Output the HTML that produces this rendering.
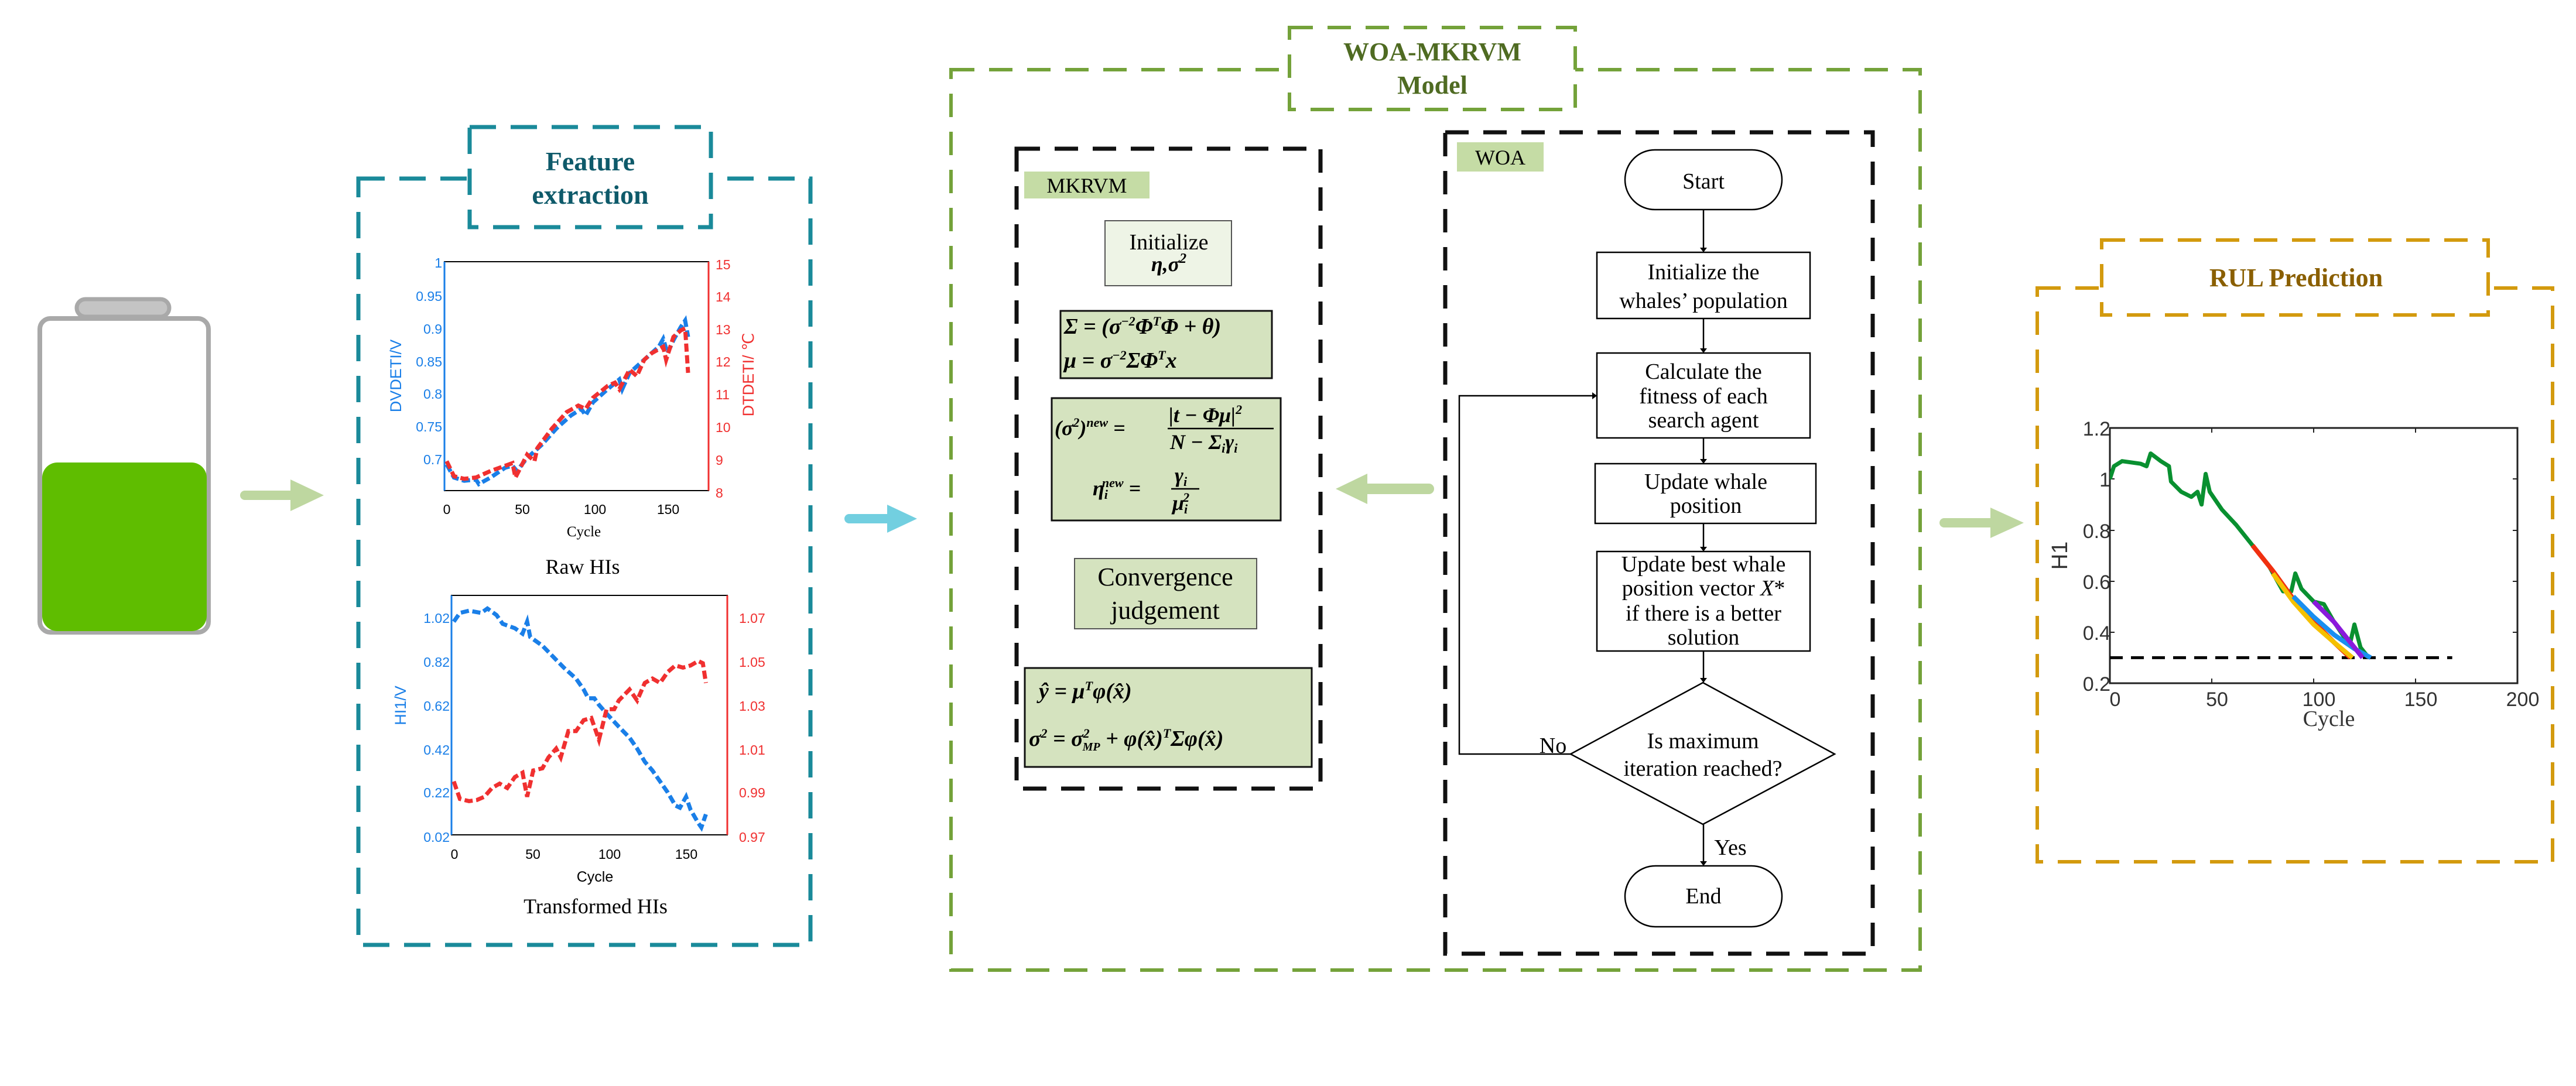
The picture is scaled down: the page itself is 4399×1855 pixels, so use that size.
<!DOCTYPE html>
<html><head><meta charset="utf-8"><style>
html,body{margin:0;padding:0;background:#fff;}
svg{display:block;}
.ser{font-family:"Liberation Serif",serif;}
.san{font-family:"Liberation Sans",sans-serif;}
</style></head><body>
<svg width="4399" height="1855" viewBox="0 0 4399 1855" xmlns="http://www.w3.org/2000/svg">
<!-- Battery -->
<rect x="131" y="511" width="158" height="30" rx="15" fill="#c4c4c4" stroke="#a9a9a9" stroke-width="7"/>
<rect x="68" y="544" width="288" height="536" rx="18" fill="#fff" stroke="#a9a9a9" stroke-width="8"/>
<rect x="72" y="790" width="281" height="288" rx="26" fill="#5fbd00"/>
<!-- arrow 1 -->
<line x1="418" y1="846" x2="500" y2="846" stroke="#bed7a0" stroke-width="16" stroke-linecap="round"/>
<polygon points="496,819 553,846 496,873" fill="#bed7a0"/>

<!-- Feature extraction box -->
<rect x="612" y="305" width="772" height="1309" fill="none" stroke="#1a8a9a" stroke-width="7" stroke-dasharray="45,25"/>
<rect x="802" y="217" width="412" height="171" fill="#fff" stroke="#1a8a9a" stroke-width="7" stroke-dasharray="45,25"/>
<text class="ser" x="1008" y="291" font-size="46" font-weight="bold" fill="#0e5a6a" text-anchor="middle">Feature</text>
<text class="ser" x="1008" y="348" font-size="46" font-weight="bold" fill="#0e5a6a" text-anchor="middle">extraction</text>

<!-- Chart 1 -->
<rect x="759" y="447" width="451" height="391" fill="none" stroke="#000" stroke-width="2"/>
<line x1="759" y1="447" x2="759" y2="838" stroke="#1a7fe8" stroke-width="3"/>
<line x1="1210" y1="447" x2="1210" y2="838" stroke="#f03030" stroke-width="3"/>
<g class="san" font-size="23" fill="#1a7fe8" text-anchor="end">
<text x="755" y="457">1</text><text x="755" y="514">0.95</text><text x="755" y="570">0.9</text><text x="755" y="626">0.85</text><text x="755" y="681">0.8</text><text x="755" y="737">0.75</text><text x="755" y="793">0.7</text>
</g>
<g class="san" font-size="23" fill="#f03030">
<text x="1222" y="460">15</text><text x="1222" y="515">14</text><text x="1222" y="571">13</text><text x="1222" y="626">12</text><text x="1222" y="682">11</text><text x="1222" y="738">10</text><text x="1222" y="794">9</text><text x="1222" y="850">8</text>
</g>
<g class="san" font-size="23" fill="#000" text-anchor="middle">
<text x="763" y="878">0</text><text x="892" y="878">50</text><text x="1016" y="878">100</text><text x="1141" y="878">150</text>
</g>
<text class="ser" x="997" y="916" font-size="25" text-anchor="middle">Cycle</text>
<text class="san" font-size="27" fill="#1a7fe8" text-anchor="middle" transform="translate(685,642) rotate(-90)">DVDETI/V</text>
<text class="san" font-size="27" fill="#f03030" text-anchor="middle" transform="translate(1287,640) rotate(-90)">DTDETI/ ℃</text>
<svg x="759" y="447" width="451" height="391" viewBox="-1.5 0 180.5 350" preserveAspectRatio="none">
<polyline vector-effect="non-scaling-stroke" fill="none" stroke="#1a7fe8" stroke-width="7" stroke-dasharray="14,6" points="0,310 5,330 12,335 20,333 22,340 30,330 40,315 45,312 48,320 55,300 65,280 75,255 85,235 92,225 95,235 100,215 110,195 118,180 120,195 125,170 130,160 135,150 140,140 145,130 148,118 151,140 155,120 160,100 163,90 165,115"/>
<polyline vector-effect="non-scaling-stroke" fill="none" stroke="#f03030" stroke-width="7" stroke-dasharray="14,6" points="0,305 5,328 12,332 20,330 30,320 40,312 45,308 47,330 55,295 60,305 62,285 72,255 82,230 90,220 95,225 100,208 110,190 115,185 118,195 125,165 130,175 135,150 140,140 148,130 150,150 155,115 160,105 163,102 165,170"/>
</svg>
<text class="ser" x="995" y="980" font-size="36" text-anchor="middle">Raw HIs</text>

<!-- Chart 2 -->
<rect x="771" y="1017" width="471" height="409" fill="none" stroke="#000" stroke-width="2"/>
<line x1="771" y1="1017" x2="771" y2="1426" stroke="#1a7fe8" stroke-width="3"/>
<line x1="1242" y1="1017" x2="1242" y2="1426" stroke="#f03030" stroke-width="3"/>
<g class="san" font-size="23" fill="#1a7fe8" text-anchor="end">
<text x="768" y="1064">1.02</text><text x="768" y="1139">0.82</text><text x="768" y="1214">0.62</text><text x="768" y="1289">0.42</text><text x="768" y="1362">0.22</text><text x="768" y="1438">0.02</text>
</g>
<g class="san" font-size="23" fill="#f03030">
<text x="1262" y="1064">1.07</text><text x="1262" y="1139">1.05</text><text x="1262" y="1214">1.03</text><text x="1262" y="1289">1.01</text><text x="1262" y="1362">0.99</text><text x="1262" y="1438">0.97</text>
</g>
<g class="san" font-size="23" fill="#000" text-anchor="middle">
<text x="776" y="1467">0</text><text x="910" y="1467">50</text><text x="1041" y="1467">100</text><text x="1172" y="1467">150</text>
</g>
<text class="san" x="1016" y="1506" font-size="25" text-anchor="middle">Cycle</text>
<text class="san" font-size="27" fill="#1a7fe8" text-anchor="middle" transform="translate(693,1205) rotate(-90)">HI1/V</text>
<svg x="771" y="1017" width="471" height="409" viewBox="-1.5 0 180.5 1094" preserveAspectRatio="none">
<polyline vector-effect="non-scaling-stroke" fill="none" stroke="#1a7fe8" stroke-width="7" stroke-dasharray="14,6" points="0,120 4,80 10,70 18,80 22,60 28,90 32,130 40,150 45,175 48,120 50,190 58,230 65,280 72,330 80,380 85,430 88,470 92,470 95,500 100,540 108,600 115,650 120,700 125,760 130,800 135,850 140,900 145,960 148,970 152,920 155,980 160,1040 162,1060 165,1000"/>
<polyline vector-effect="non-scaling-stroke" fill="none" stroke="#f03030" stroke-width="7" stroke-dasharray="14,6" points="0,850 4,930 10,940 15,935 20,920 25,880 30,860 35,880 40,830 45,810 48,920 52,800 58,790 62,740 67,700 70,740 75,620 80,620 85,570 90,560 95,660 100,520 105,520 108,480 115,430 120,480 125,400 130,380 135,400 140,350 145,320 150,330 155,320 160,300 163,310 165,400"/>
</svg>
<text class="ser" x="1017" y="1560" font-size="36" text-anchor="middle">Transformed HIs</text>

<!-- arrow 2 cyan -->
<line x1="1450" y1="886" x2="1520" y2="886" stroke="#72cfe0" stroke-width="16" stroke-linecap="round"/>
<polygon points="1515,862 1566,886 1515,910" fill="#72cfe0"/>

<!-- WOA-MKRVM box -->
<rect x="1624" y="119" width="1655" height="1538" fill="none" stroke="#74a23a" stroke-width="6" stroke-dasharray="40,25"/>
<rect x="2202" y="47" width="488" height="140" fill="#fff" stroke="#74a23a" stroke-width="6" stroke-dasharray="40,25"/>
<text class="ser" x="2446" y="103" font-size="44" font-weight="bold" fill="#4f6b22" text-anchor="middle">WOA-MKRVM</text>
<text class="ser" x="2446" y="160" font-size="44" font-weight="bold" fill="#4f6b22" text-anchor="middle">Model</text>

<!-- MKRVM box -->
<rect x="1736" y="254" width="519" height="1093" fill="none" stroke="#111" stroke-width="7" stroke-dasharray="40,25"/>
<rect x="1749" y="293" width="214" height="46" fill="#c5dca5"/>
<text class="ser" x="1856" y="329" font-size="36" text-anchor="middle">MKRVM</text>
<rect x="1887" y="377" width="216" height="111" fill="#eef4e6" stroke="#555" stroke-width="2"/>
<text class="ser" x="1996" y="426" font-size="38" text-anchor="middle">Initialize</text>
<text class="ser" x="1996" y="463" font-size="36" font-weight="bold" font-style="italic" text-anchor="middle">η,σ<tspan font-size="24" dy="-14">2</tspan></text>

<rect x="1811" y="531" width="361" height="115" fill="#d5e3bf" stroke="#111" stroke-width="3"/>
<text class="ser" x="1817" y="570" font-size="38" font-weight="bold" font-style="italic">Σ = (σ<tspan font-size="22" dy="-14">−2</tspan><tspan dy="14">Φ</tspan><tspan font-size="22" dy="-14">T</tspan><tspan dy="14">Φ + θ)</tspan></text>
<text class="ser" x="1817" y="628" font-size="38" font-weight="bold" font-style="italic">μ = σ<tspan font-size="22" dy="-14">−2</tspan><tspan dy="14">ΣΦ</tspan><tspan font-size="22" dy="-14">T</tspan><tspan dy="14">x</tspan></text>

<rect x="1796" y="680" width="391" height="209" fill="#d5e3bf" stroke="#111" stroke-width="3"/>
<text class="ser" x="1801" y="743" font-size="36" font-weight="bold" font-style="italic">(σ<tspan font-size="22" dy="-14">2</tspan><tspan dy="14">)</tspan><tspan font-size="22" dy="-14">new</tspan><tspan dy="14"> =</tspan></text>
<text class="ser" x="1996" y="721" font-size="36" font-weight="bold" font-style="italic">|t − Φμ|<tspan font-size="22" dy="-14">2</tspan></text>
<line x1="1994" y1="732" x2="2175" y2="732" stroke="#000" stroke-width="2.5"/>
<text class="ser" x="1998" y="767" font-size="36" font-weight="bold" font-style="italic">N − Σ<tspan font-size="22" dy="6">i</tspan><tspan dy="-6">γ</tspan><tspan font-size="22" dy="6">i</tspan></text>
<text class="ser" x="1866" y="846" font-size="36" font-weight="bold" font-style="italic">η<tspan font-size="22" dy="6">i</tspan><tspan font-size="22" dx="-10" dy="-20">new</tspan><tspan dy="14"> =</tspan></text>
<text class="ser" x="2006" y="824" font-size="36" font-weight="bold" font-style="italic">γ<tspan font-size="22" dy="6">i</tspan></text>
<line x1="2000" y1="835" x2="2048" y2="835" stroke="#000" stroke-width="2.5"/>
<text class="ser" x="2002" y="871" font-size="36" font-weight="bold" font-style="italic">μ<tspan font-size="22" dy="6">i</tspan><tspan font-size="22" dx="-8" dy="-20">2</tspan></text>

<rect x="1835" y="954" width="311" height="120" fill="#d5e3bf" stroke="#555" stroke-width="2"/>
<text class="ser" x="1990" y="1000" font-size="44" text-anchor="middle">Convergence</text>
<text class="ser" x="1990" y="1057" font-size="44" text-anchor="middle">judgement</text>

<rect x="1750" y="1141" width="490" height="169" fill="#d5e3bf" stroke="#111" stroke-width="3"/>
<text class="ser" x="1774" y="1193" font-size="38" font-weight="bold" font-style="italic">ŷ = μ<tspan font-size="22" dy="-14">T</tspan><tspan dy="14">φ(x̂)</tspan></text>
<text class="ser" x="1757" y="1274" font-size="38" font-weight="bold" font-style="italic">σ<tspan font-size="22" dy="-14">2</tspan><tspan dy="14"> = σ</tspan><tspan font-size="22" dy="-14">2</tspan><tspan font-size="20" dx="-12" dy="22">MP</tspan><tspan dy="-8"> + φ(x̂)</tspan><tspan font-size="22" dy="-14">T</tspan><tspan dy="14">Σφ(x̂)</tspan></text>

<!-- arrow left -->
<line x1="2440" y1="835" x2="2330" y2="835" stroke="#bed7a0" stroke-width="18" stroke-linecap="round"/>
<polygon points="2335,809 2281,835 2335,861" fill="#bed7a0"/>

<!-- WOA box -->
<rect x="2468" y="226" width="730" height="1403" fill="none" stroke="#111" stroke-width="7" stroke-dasharray="40,25"/>
<rect x="2488" y="243" width="148" height="50" fill="#c5dca5"/>
<text class="ser" x="2562" y="281" font-size="36" text-anchor="middle">WOA</text>

<g stroke="#000" stroke-width="2.5" fill="#fff">
<rect x="2775" y="256" width="268" height="102" rx="51"/>
<rect x="2727" y="431" width="364" height="113"/>
<rect x="2727" y="603" width="364" height="145"/>
<rect x="2724" y="792" width="377" height="102"/>
<rect x="2727" y="942" width="364" height="170"/>
<polygon points="2908,1166 3133,1288 2908,1408 2682,1288"/>
<rect x="2775" y="1479" width="268" height="104" rx="52"/>
</g>
<g stroke="#000" stroke-width="2.5" fill="none">
<line x1="2909" y1="358" x2="2909" y2="425"/>
<line x1="2909" y1="544" x2="2909" y2="597"/>
<line x1="2909" y1="748" x2="2909" y2="786"/>
<line x1="2909" y1="894" x2="2909" y2="936"/>
<line x1="2909" y1="1112" x2="2909" y2="1160"/>
<line x1="2909" y1="1408" x2="2909" y2="1473"/>
<polyline points="2682,1288 2492,1288 2492,676 2721,676"/>
</g>
<g fill="#000">
<polygon points="2903,423 2915,423 2909,431"/>
<polygon points="2903,595 2915,595 2909,603"/>
<polygon points="2903,784 2915,784 2909,792"/>
<polygon points="2903,934 2915,934 2909,942"/>
<polygon points="2903,1158 2915,1158 2909,1166"/>
<polygon points="2903,1471 2915,1471 2909,1479"/>
<polygon points="2719,670 2719,682 2727,676"/>
</g>
<g class="ser" font-size="38" text-anchor="middle">
<text x="2909" y="322">Start</text>
<text x="2909" y="477">Initialize the</text>
<text x="2909" y="526">whales’ population</text>
<text x="2909" y="647">Calculate the</text>
<text x="2909" y="689">fitness of each</text>
<text x="2909" y="730">search agent</text>
<text x="2913" y="835">Update whale</text>
<text x="2913" y="876">position</text>
<text x="2909" y="976">Update best whale</text>
<text x="2909" y="1017">position vector <tspan font-style="italic">X</tspan>*</text>
<text x="2909" y="1060">if there is a better</text>
<text x="2909" y="1101">solution</text>
<text x="2908" y="1278">Is maximum</text>
<text x="2908" y="1325">iteration reached?</text>
<text x="2909" y="1543">End</text>
<text x="2652" y="1286">No</text>
<text x="2955" y="1460">Yes</text>
</g>

<!-- arrow 3 -->
<line x1="3320" y1="893" x2="3405" y2="893" stroke="#bed7a0" stroke-width="16" stroke-linecap="round"/>
<polygon points="3399,867 3456,893 3399,919" fill="#bed7a0"/>

<!-- RUL box -->
<rect x="3479" y="492" width="880" height="980" fill="none" stroke="#d39a0e" stroke-width="6" stroke-dasharray="40,25"/>
<rect x="3589" y="410" width="660" height="128" fill="#fff" stroke="#d39a0e" stroke-width="6" stroke-dasharray="40,25"/>
<text class="ser" x="3921" y="489" font-size="44" font-weight="bold" fill="#8a5f00" text-anchor="middle">RUL Prediction</text>

<rect x="3603" y="731" width="696" height="436" fill="none" stroke="#222" stroke-width="3"/>
<g stroke="#222" stroke-width="2">
<line x1="3777" y1="731" x2="3777" y2="739"/><line x1="3951" y1="731" x2="3951" y2="739"/><line x1="4125" y1="731" x2="4125" y2="739"/>
<line x1="3777" y1="1167" x2="3777" y2="1159"/><line x1="3951" y1="1167" x2="3951" y2="1159"/><line x1="4125" y1="1167" x2="4125" y2="1159"/>
<line x1="4299" y1="818" x2="4291" y2="818"/><line x1="4299" y1="906" x2="4291" y2="906"/><line x1="4299" y1="993" x2="4291" y2="993"/><line x1="4299" y1="1080" x2="4291" y2="1080"/>
<line x1="3603" y1="818" x2="3611" y2="818"/><line x1="3603" y1="906" x2="3611" y2="906"/><line x1="3603" y1="993" x2="3611" y2="993"/><line x1="3603" y1="1080" x2="3611" y2="1080"/>
</g>
<g class="san" font-size="34" fill="#333" text-anchor="end">
<text x="3604" y="744">1.2</text><text x="3604" y="831">1</text><text x="3604" y="919">0.8</text><text x="3604" y="1006">0.6</text><text x="3604" y="1093">0.4</text><text x="3604" y="1180">0.2</text>
</g>
<g class="san" font-size="34" fill="#333" text-anchor="middle">
<text x="3612" y="1206">0</text><text x="3786" y="1206">50</text><text x="3960" y="1206">100</text><text x="4134" y="1206">150</text><text x="4308" y="1206">200</text>
</g>
<text class="ser" x="3977" y="1240" font-size="38" fill="#333" text-anchor="middle">Cycle</text>
<text class="san" font-size="38" fill="#333" text-anchor="middle" transform="translate(3530,949) rotate(-90)">H1</text>
<svg x="3603" y="731" width="696" height="436" viewBox="0 0 200 1000" preserveAspectRatio="none">
<line x1="0" y1="900" x2="168" y2="900" vector-effect="non-scaling-stroke" stroke="#000" stroke-width="5" stroke-dasharray="22,14"/>
<polyline vector-effect="non-scaling-stroke" fill="none" stroke="#099030" stroke-width="7" stroke-linejoin="round" points="0,200 2,150 6,130 15,140 18,150 20,100 25,130 29,150 30,210 35,250 40,270 43,250 45,300 47,180 49,250 55,320 62,380 70,460 78,540 85,640 89,640 91,570 94,630 100,680 105,690 110,760 115,820 118,840 120,770 123,860 127,900"/>
<polyline vector-effect="non-scaling-stroke" fill="none" stroke="#f03010" stroke-width="8" points="70,460 80,560 90,670 100,760 110,840 118,900"/>
<polyline vector-effect="non-scaling-stroke" fill="none" stroke="#f5c000" stroke-width="8" points="80,570 90,680 100,770 110,840 119,900"/>
<polyline vector-effect="non-scaling-stroke" fill="none" stroke="#1a8ff0" stroke-width="8" points="90,660 100,740 110,810 120,865 128,900"/>
<polyline vector-effect="non-scaling-stroke" fill="none" stroke="#8a1adb" stroke-width="8" points="100,680 110,760 118,840 124,900"/>
</svg>
</svg>
</body></html>
